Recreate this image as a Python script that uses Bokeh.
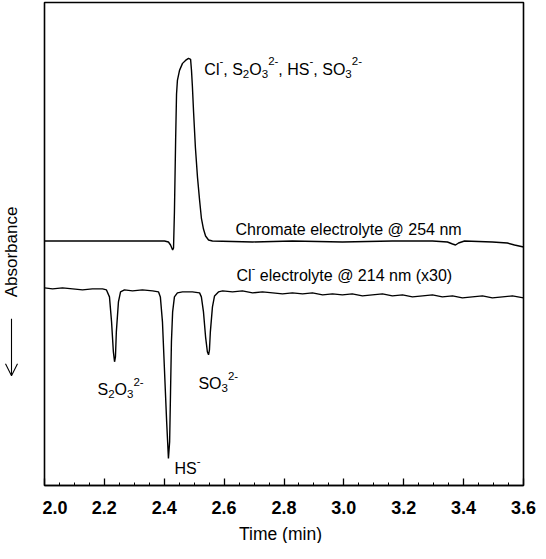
import math
from bokeh.plotting import figure
from bokeh.layouts import row, column
from bokeh.models import Label, Arrow, OpenHead, FixedTicker, Range1d
from bokeh.embed import file_html
from bokeh.resources import INLINE

# ---- data (time in min, absorbance in arbitrary units) ----
time_chromate = [2.000, 2.160, 2.327, 2.401, 2.414, 2.421, 2.428, 2.431, 2.434, 2.438,
                 2.441, 2.444, 2.451, 2.461, 2.471, 2.481, 2.488, 2.491, 2.494, 2.498,
                 2.504, 2.511, 2.518, 2.524, 2.531, 2.538, 2.548, 2.561, 2.695, 2.828,
                 2.995, 3.162, 3.296, 3.346, 3.363, 3.373, 3.383, 3.403, 3.496, 3.546,
                 3.570, 3.600]
abs_chromate = [245, 245, 245, 245, 244, 241, 236, 238, 274, 346,
                392, 406, 416, 423, 426, 428, 427, 416, 400, 374,
                339, 309, 286, 268, 257, 250, 246, 245, 244, 245,
                244, 245, 245, 244, 242, 241, 243, 245, 244, 243,
                241, 239]

time_chloride = [2.000, 2.027, 2.060, 2.094, 2.127, 2.160, 2.194, 2.207, 2.217, 2.224,
                 2.230, 2.234, 2.237, 2.240, 2.247, 2.254, 2.267, 2.294, 2.327, 2.361,
                 2.381, 2.387, 2.394, 2.401, 2.408, 2.414, 2.418, 2.421, 2.424, 2.428,
                 2.434, 2.444, 2.461, 2.494, 2.518, 2.524, 2.531, 2.538, 2.544, 2.548,
                 2.551, 2.554, 2.561, 2.568, 2.581, 2.595, 2.628, 2.661, 2.695, 2.728,
                 2.762, 2.795, 2.828, 2.862, 2.895, 2.929, 2.962, 2.995, 3.028, 3.062,
                 3.095, 3.129, 3.162, 3.196, 3.229, 3.263, 3.296, 3.329, 3.363, 3.396,
                 3.429, 3.463, 3.496, 3.530, 3.563, 3.600]
abs_chloride = [198, 197, 198, 197, 196, 197, 197, 196, 189, 164,
                134, 124, 129, 154, 184, 194, 196, 195, 196, 195,
                194, 189, 164, 114, 64, 27, 44, 94, 144, 174,
                189, 193, 194, 194, 193, 189, 174, 149, 134, 131,
                136, 154, 179, 190, 194, 195, 194, 195, 193, 194,
                193, 192, 193, 192, 193, 191, 192, 191, 192, 190,
                191, 192, 190, 191, 189, 190, 191, 189, 190, 188,
                189, 190, 188, 189, 190, 188]

x_ticks = [2.0, 2.2, 2.4, 2.6, 2.8, 3.0, 3.2, 3.4, 3.6]
x_minor_ticks = [2.05, 2.1, 2.15, 2.25, 2.3, 2.35, 2.45, 2.5, 2.55, 2.65, 2.7, 2.75,
                 2.85, 2.9, 2.95, 3.05, 3.1, 3.15, 3.25, 3.3, 3.35, 3.45, 3.5, 3.55]
x_tick_labels = ["2.0", "2.2", "2.4", "2.6", "2.8", "3.0", "3.2", "3.4", "3.6"]

FONT = "Liberation Sans"
TOTAL_W = 536
TOTAL_H = 543
H1 = 521            # height of the plot row
BORDER_TOP = 2
BORDER_BOTTOM = 36
LEFT_W = 42

y_range = Range1d(0, 484)

# ---- main plot ----
p = figure(width=TOTAL_W - LEFT_W, height=H1, output_backend="svg", toolbar_location=None,
           x_range=Range1d(2.0, 3.6), y_range=y_range,
           min_border_left=2, min_border_right=13,
           min_border_top=BORDER_TOP, min_border_bottom=BORDER_BOTTOM)
p.xgrid.visible = False
p.ygrid.visible = False
p.yaxis.visible = False
p.outline_line_color = "black"
p.outline_line_width = 1.6
p.background_fill_color = "white"
p.border_fill_color = "white"

p.line(time_chromate, abs_chromate, line_color="black", line_width=1.4)
p.line(time_chloride, abs_chloride, line_color="black", line_width=1.4)

xa = p.xaxis[0]
xa.ticker = FixedTicker(ticks=x_ticks, minor_ticks=x_minor_ticks)
xa.major_label_overrides = {t: s for t, s in zip(x_ticks, x_tick_labels)}
xa.major_tick_in = 7
xa.major_tick_out = 0
xa.minor_tick_in = 3
xa.minor_tick_out = 0
xa.major_tick_line_color = "black"
xa.major_tick_line_width = 1.3
xa.minor_tick_line_color = "black"
xa.axis_line_color = "black"
xa.axis_line_width = 1.6
xa.major_label_text_font = FONT
xa.major_label_text_font_size = "18px"
xa.major_label_text_font_style = "bold"
xa.major_label_text_color = "black"
xa.major_label_standoff = 15

W = {'C': 722, 'l': 222, ',': 278, ' ': 278, 'S': 667, 'O': 778, 'H': 722,
     '-': 333, '2': 556, '3': 556}


def text_width(s, size):
    return sum(W.get(c, 556) for c in s) * size / 1000.0


def rich(x, y, parts, size=16):
    off = 0.0
    for txt, kind in parts:
        fs = size if kind == "n" else size * 0.72
        dy = 0 if kind == "n" else (-size * 0.28 if kind == "sub" else size * 0.5)
        lead = len(txt) - len(txt.lstrip(" "))
        off += text_width(" " * lead, fs)
        body = txt.lstrip(" ")
        p.add_layout(Label(x=x, y=y, x_offset=off, y_offset=dy, text=body,
                           text_font=FONT, text_font_size=f"{fs:.1f}px",
                           text_color="black", text_baseline="alphabetic",
                           text_align="left"))
        off += text_width(body, fs)


rich(2.534, 417, [("Cl", "n"), ("-", "sup"), (", S", "n"), ("2", "sub"), ("O", "n"),
                  ("3", "sub"), ("2-", "sup"), (", HS", "n"), ("-", "sup"), (", SO", "n"),
                  ("3", "sub"), ("2-", "sup")])
p.add_layout(Label(x=2.638, y=257, text="Chromate electrolyte @ 254 nm", text_font=FONT,
                   text_font_size="16px", text_color="black", text_baseline="alphabetic"))
rich(2.641, 210, [("Cl", "n"), ("-", "sup"), (" electrolyte @ 214 nm (x30)", "n")])
rich(2.177, 96, [("S", "n"), ("2", "sub"), ("O", "n"), ("3", "sub"), ("2-", "sup")])
rich(2.434, 17, [("HS", "n"), ("-", "sup")])
rich(2.514, 102, [("SO", "n"), ("3", "sub"), ("2-", "sup")])

# ---- left strip: y-axis title with downward arrow ----
q = figure(width=LEFT_W, height=H1, output_backend="svg", toolbar_location=None,
           x_range=Range1d(0, LEFT_W), y_range=y_range,
           min_border_left=0, min_border_right=0,
           min_border_top=BORDER_TOP, min_border_bottom=BORDER_BOTTOM)
q.axis.visible = False
q.grid.visible = False
q.outline_line_color = None
q.background_fill_color = "white"
q.border_fill_color = "white"
q.add_layout(Label(x=11, y=234, text="Absorbance", angle=math.pi / 2, text_font=FONT,
                   text_font_size="17px", text_color="black",
                   text_align="center", text_baseline="middle"))
q.add_layout(Arrow(x_start=11, y_start=167, x_end=11, y_end=110,
                   line_color="black", line_width=1.1,
                   end=OpenHead(size=12, line_color="black", line_width=1.1)))

# ---- bottom strip: x-axis title ----
t = figure(width=TOTAL_W, height=TOTAL_H - H1, output_backend="svg", toolbar_location=None,
           x_range=Range1d(0, TOTAL_W), y_range=Range1d(0, TOTAL_H - H1),
           min_border_left=0, min_border_right=0, min_border_top=0, min_border_bottom=0)
t.axis.visible = False
t.grid.visible = False
t.outline_line_color = None
t.background_fill_color = "white"
t.border_fill_color = "white"
t.add_layout(Label(x=280, y=9.5, text="Time (min)", text_font=FONT,
                   text_font_size="17.5px", text_color="black",
                   text_align="center", text_baseline="middle"))

layout = column(row(q, p, spacing=0), t, spacing=0)
open("out.html", "w").write(file_html(layout, INLINE))
